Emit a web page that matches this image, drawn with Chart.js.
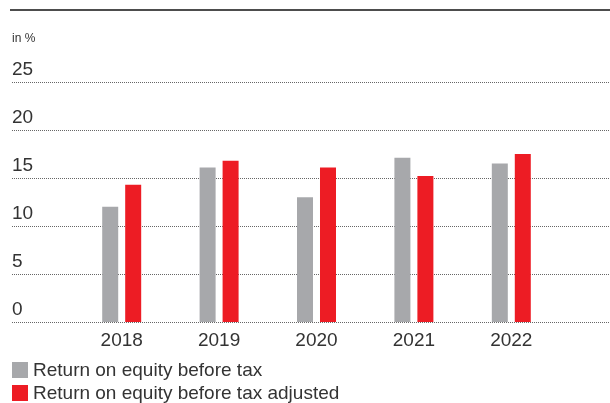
<!DOCTYPE html>
<html><head><meta charset="utf-8">
<script src="https://cdn.jsdelivr.net/npm/chart.js@4.4.1/dist/chart.umd.min.js"></script>
<style>
html,body{margin:0;padding:0;background:#fff;}
#wrap{position:relative;width:610px;height:403px;overflow:hidden;}
#legend{position:absolute;left:12px;top:358px;font-family:"Liberation Sans",Arial,sans-serif;font-size:19px;color:#333;}
.item{display:flex;align-items:center;height:23.5px;white-space:nowrap;}
.sw{width:16px;height:16px;margin-right:5px;flex:none;}
</style></head>
<body><div id="wrap"><canvas id="c" width="610" height="403"></canvas><div id="legend"></div></div>
<script>
const categories = ['2018', '2019', '2020', '2021', '2022'];
const seriesNames = ['Return on equity before tax', 'Return on equity before tax adjusted'];
const roeBeforeTax = [12.0, 16.1, 13.0, 17.1, 16.5];
const roeBeforeTaxAdjusted = [14.3, 16.8, 16.1, 15.2, 17.5];
const yTicks = [0, 5, 10, 15, 20, 25];
const yUnit = 'in %';
const seriesColors = ['#A7A8AB', '#ED1C24'];

const FONT = '"Liberation Sans", Arial, sans-serif';

const decor = {
  id: 'decor',
  beforeDatasetsDraw(chart) {
    const ctx = chart.ctx;
    const y = chart.scales.y;
    ctx.save();
    ctx.strokeStyle = '#4d4d4d';
    ctx.lineWidth = 2;
    ctx.beginPath(); ctx.moveTo(10, 10); ctx.lineTo(610, 10); ctx.stroke();
    ctx.fillStyle = '#333';
    ctx.font = '12px ' + FONT;
    ctx.textBaseline = 'alphabetic';
    ctx.textAlign = 'left';
    ctx.fillText(yUnit, 12, 42);
    ctx.font = '19px ' + FONT;
    yTicks.forEach(v => {
      const py = Math.round(y.getPixelForValue(v)) + 0.5;
      ctx.strokeStyle = '#666';
      ctx.lineWidth = 1;
      ctx.setLineDash([1, 1]);
      ctx.beginPath(); ctx.moveTo(12, py); ctx.lineTo(610, py); ctx.stroke();
      ctx.setLineDash([]);
      ctx.fillStyle = '#333';
      ctx.fillText(String(v), 12, py - 8);
    });
    ctx.restore();
  }
};

new Chart(document.getElementById('c'), {
  type: 'bar',
  data: {
    labels: categories,
    datasets: [
      { label: seriesNames[0], data: roeBeforeTax, backgroundColor: seriesColors[0], borderWidth: 0 },
      { label: seriesNames[1], data: roeBeforeTaxAdjusted, backgroundColor: seriesColors[1], borderWidth: 0 }
    ]
  },
  options: {
    responsive: false,
    animation: false,
    devicePixelRatio: 1,
    datasets: { bar: { categoryPercentage: 0.472, barPercentage: 0.696 } },
    layout: { padding: { left: 73, right: 50, top: 82, bottom: 44.2 } },
    plugins: { legend: { display: false }, tooltip: { enabled: false } },
    scales: {
      x: {
        grid: { display: false, drawTicks: false },
        border: { display: false },
        ticks: { color: '#333', font: { family: FONT, size: 19 }, padding: 7, maxRotation: 0 }
      },
      y: { display: false, min: 0, max: 25 }
    }
  },
  plugins: [decor]
});

const lg = document.getElementById('legend');
seriesNames.forEach((n, i) => {
  const d = document.createElement('div'); d.className = 'item';
  const s = document.createElement('span'); s.className = 'sw'; s.style.background = seriesColors[i];
  const t = document.createElement('span'); t.textContent = n;
  d.appendChild(s); d.appendChild(t); lg.appendChild(d);
});
</script>
</body></html>
